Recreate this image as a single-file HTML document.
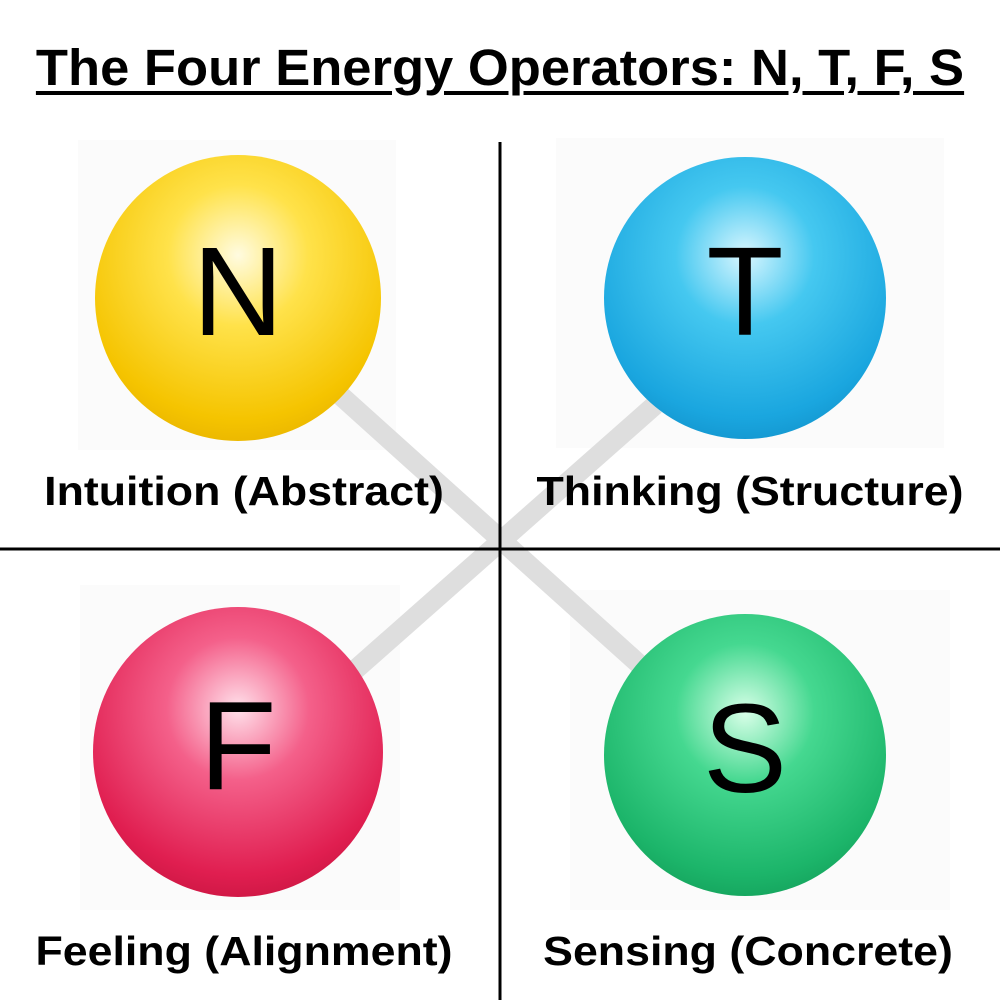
<!DOCTYPE html>
<html><head><style>
body{margin:0;width:1000px;height:1000px;background:#fff;position:relative;overflow:hidden;font-family:"Liberation Sans",sans-serif}
.t{position:absolute;left:0;width:1000px;top:38px;text-align:center;font-weight:bold;font-size:51px;text-decoration:underline;text-decoration-thickness:4px;text-underline-offset:6px;color:#000;transform:scaleX(1.03)}
.l{position:absolute;font-weight:bold;font-size:41px;color:#000;text-align:center;width:500px;transform:scaleX(1.09)}
.s{position:absolute;border-radius:50%;display:flex;align-items:center;justify-content:center;font-size:126px;color:#000;line-height:1;padding-bottom:12px;box-sizing:border-box}
.bg{position:absolute;background:#fbfbfb}
</style></head><body>
<div class="bg" style="left:78px;top:140px;width:318px;height:310px"></div>
<div class="bg" style="left:556px;top:138px;width:388px;height:310px"></div>
<div class="bg" style="left:80px;top:585px;width:320px;height:325px"></div>
<div class="bg" style="left:570px;top:590px;width:380px;height:320px"></div>
<svg style="position:absolute;left:0;top:0" width="1000" height="1000">
<line x1="340" y1="395" x2="640" y2="665" stroke="#dedede" stroke-width="20"/>
<line x1="655" y1="405" x2="355" y2="670" stroke="#dedede" stroke-width="20"/>
<line x1="500" y1="142" x2="500" y2="1000" stroke="#000" stroke-width="3"/>
<line x1="0" y1="549" x2="1000" y2="549" stroke="#000" stroke-width="3"/>
</svg>
<div class="t">The Four Energy Operators: N, T, F, S</div>
<div class="s" style="left:95px;top:155px;width:286px;height:286px;background:radial-gradient(circle at 50% 35%,#fffbe0 0%,#ffe24a 30%,#f5c400 70%,#d9a000 100%)">N</div>
<div class="s" style="left:604px;top:157px;width:282px;height:282px;background:radial-gradient(circle at 50% 35%,#d8f6ff 0%,#45c8f0 30%,#1aa6df 70%,#0a7fb8 100%)">T</div>
<div class="s" style="left:93px;top:607px;width:290px;height:290px;background:radial-gradient(circle at 50% 35%,#ffe0ea 0%,#f4608a 30%,#e01e50 70%,#b00c30 100%)">F</div>
<div class="s" style="left:604px;top:614px;width:282px;height:282px;background:radial-gradient(circle at 50% 35%,#d8ffe8 0%,#45d890 30%,#1cb56a 70%,#0b8a4a 100%)">S</div>
<div class="l" style="left:-6px;top:468px">Intuition (Abstract)</div>
<div class="l" style="left:500px;top:468px">Thinking (Structure)</div>
<div class="l" style="left:-6px;top:928px">Feeling (Alignment)</div>
<div class="l" style="left:498px;top:928px">Sensing (Concrete)</div>
</body></html>
